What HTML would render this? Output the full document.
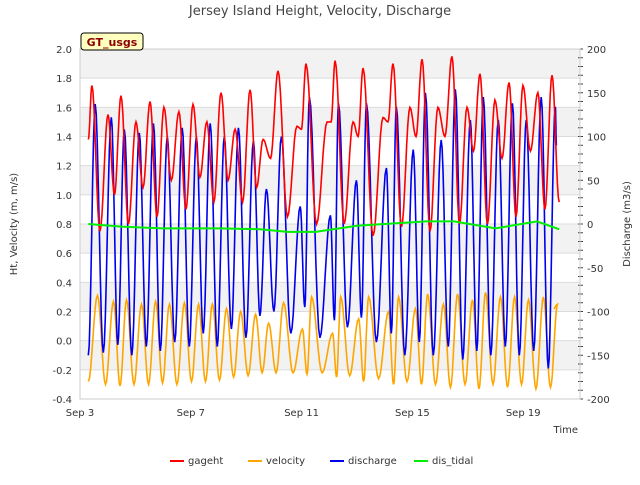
<!DOCTYPE html>
<html><head><meta charset="utf-8"><style>
body{margin:0;background:#fff;font-family:"Liberation Sans","DejaVu Sans",sans-serif}
svg text{font-family:"DejaVu Sans","Liberation Sans",sans-serif}
</style></head><body>
<svg id="c" width="640" height="480" xmlns="http://www.w3.org/2000/svg"></svg>
<script>
const gagePeakT=[0.43,1.01,1.48,2.02,2.53,3.03,3.57,4.08,4.58,5.09,5.6,6.14,6.61,7.15,7.83,8.16,8.92,9.21,9.86,10.22,10.94,11.3,11.91,12.35,12.92,13.43,13.97,14.44,14.98,15.49,15.99,16.53,17.04];
const gagePeaks=[1.75,1.55,1.68,1.5,1.64,1.6,1.57,1.62,1.5,1.7,1.45,1.72,1.38,1.85,1.47,1.9,1.5,1.92,1.5,1.87,1.53,1.9,1.6,1.93,1.6,1.95,1.6,1.83,1.65,1.77,1.75,1.7,1.82];
const gageTroughs=[1.38,0.75,1.0,0.8,1.05,0.85,1.1,0.9,1.12,0.95,1.1,0.95,1.05,1.25,0.85,1.45,0.8,1.5,0.8,1.4,0.72,1.5,0.78,1.4,0.75,1.4,0.8,1.3,0.8,1.25,0.85,1.3,0.9,0.95];
const dischPeaks=[137,122,108,104,115,100,110,100,115,100,110,95,40,100,20,145,10,138,50,138,64,134,85,150,96,154,119,145,119,138,119,145,134];
const dischTroughs=[-150,-147,-138,-150,-140,-145,-135,-140,-125,-140,-120,-130,-105,-100,-125,-95,-130,-110,-118,-107,-135,-125,-150,-135,-150,-140,-155,-145,-150,-140,-150,-145,-165,90];
const velPeaks=[0.31,0.27,0.28,0.25,0.27,0.25,0.26,0.25,0.25,0.22,0.2,0.18,0.12,0.26,0.08,0.3,0.05,0.3,0.15,0.3,0.2,0.3,0.22,0.32,0.25,0.32,0.28,0.33,0.3,0.3,0.28,0.3,0.25];
const velTroughs=[-0.28,-0.3,-0.31,-0.3,-0.3,-0.29,-0.3,-0.28,-0.28,-0.27,-0.25,-0.24,-0.22,-0.22,-0.22,-0.23,-0.22,-0.25,-0.24,-0.28,-0.26,-0.3,-0.28,-0.3,-0.3,-0.32,-0.3,-0.33,-0.3,-0.32,-0.3,-0.33,-0.32,0.22];
const tidalT=[0.3,1.5,3,5,6.5,7.5,8.5,10,11,12.5,13.5,15,16.5,17.3];
const tidalV=[0,-3,-5,-5,-6,-9,-9,-2,0,3,3,-5,3,-6];
const leftTicks=["-0.4","-0.2","0.0","0.2","0.4","0.6","0.8","1.0","1.2","1.4","1.6","1.8","2.0"];
const rightTicks=["-200","-150","-100","-50","0","50","100","150","200"];
const dateLabels=["Sep 3","Sep 7","Sep 11","Sep 15","Sep 19"];
const dateDays=[0,4,8,12,16];

const NS="http://www.w3.org/2000/svg",svg=document.getElementById('c');
const X0=80,X1=580,Y0=49,Y1=399;
const xs=t=>X0+t*27.7;
const yl=v=>Y1-(v+0.4)/2.4*(Y1-Y0);
const yr=v=>Y1-(v+200)/400*(Y1-Y0);
function el(tag,a,p){const e=document.createElementNS(NS,tag);for(const k in a)e.setAttribute(k,a[k]);(p||svg).appendChild(e);return e;}
function txt(s,a){const e=el('text',a);e.textContent=s;return e;}

const bh=yl(1.8)-yl(2.0);
for(let k=0;k<6;k++){
 const r=el('rect',{x:X0,y:yl(2.0-0.4*k),width:X1-X0,height:bh,fill:'#f2f2f2'});
 
}
leftTicks.forEach((s,i)=>{const v=parseFloat(s);
 const g=el('line',{x1:X0,x2:X1,y1:yl(v),y2:yl(v),stroke:'#dcdcdc','stroke-width':1});
 
 const t=txt(s,{x:72,y:yl(v)+4,'text-anchor':'end','font-size':10,fill:'#333'});
 });
rightTicks.forEach(s=>{const v=parseFloat(s);
 const t=txt(s,{x:587,y:yr(v)+4,'font-size':10,fill:'#333'});
 });
for(let v=-200;v<=200;v+=10){const m=el('line',{x1:X1-2,x2:X1+3,y1:yr(v),y2:yr(v),stroke:'#444','stroke-width':1});
 }
dateLabels.forEach((s,i)=>{const t=txt(s,{x:xs(dateDays[i]),y:416,'text-anchor':'middle','font-size':10,fill:'#333'});
 });

function cosPath(ts,vs,yf){
 let d='';for(let i=0;i<ts.length-1;i++){const a=ts[i],b=ts[i+1];
  for(let k=0;k<=8;k++){const f=k/8,t=a+(b-a)*f,v=vs[i]+(vs[i+1]-vs[i])*(1-Math.cos(Math.PI*f))/2;
   d+=(d?'L':'M')+xs(t).toFixed(1)+','+yf(v).toFixed(1);}}
 return d;}
function series(peaksT,peaks,troughs,shift,t0,tEnd){
 const T=[],V=[];T.push(t0+shift);V.push(troughs[0]);
 for(let i=0;i<peaks.length;i++){T.push(peaksT[i]+shift);V.push(peaks[i]);
  const nt=i<peaks.length-1?(peaksT[i]+peaksT[i+1])/2+shift:tEnd;V.push(troughs[i+1]);T.push(nt);}
 return [T,V];}
let [gt,gv]=series(gagePeakT,gagePeaks,gageTroughs,0,0.3,17.3);
let [vt,vv]=series(gagePeakT,velPeaks,velTroughs,0.2,0.0,17.1);
let [dt,dv]=series(gagePeakT,dischPeaks,dischTroughs,0.12,0.05,17.2);
dt[0]=0.3;vt[0]=0.3;
const lines=[['velocity-line',vt,vv,yl,'#ffa500'],['discharge-line',dt,dv,yr,'#0000ee'],['gageht-line',gt,gv,yl,'#ff0000']];
lines.forEach(([n,t,v,f,c])=>{const p=el('path',{d:cosPath(t,v,f),fill:'none',stroke:c,'stroke-width':1.6});
 });
let td='';tidalT.forEach((t,i)=>{td+=(i?'L':'M')+xs(t)+','+yr(tidalV[i]);});
const tp=el('path',{d:td,fill:'none',stroke:'#00ee00','stroke-width':2});


const fr=el('rect',{x:X0,y:Y0,width:X1-X0,height:Y1-Y0,fill:'none',stroke:'#ccc'});

const ti=txt('Jersey Island Height, Velocity, Discharge',{x:320,y:15,'text-anchor':'middle','font-size':13,fill:'#444'});

const bx=el('rect',{x:81,y:33,width:62,height:17,fill:'#ffffc0',stroke:'#000',rx:3});

const bt=txt('GT_usgs',{x:112,y:46,'text-anchor':'middle','font-size':11,'font-weight':'bold',fill:'#8b0000'});

const xt=txt('Time',{x:578,y:433,'text-anchor':'end','font-size':10,fill:'#333'});

const ly=txt('Ht, Velocity (m, m/s)',{x:17,y:224,'text-anchor':'middle','font-size':10,fill:'#333',transform:'rotate(-90 17 224)'});

const ry=txt('Discharge (m3/s)',{x:630,y:224,'text-anchor':'middle','font-size':10,fill:'#333',transform:'rotate(-90 630 224)'});

[['gageht','#ff0000',170],['velocity','#ffa500',248],['discharge','#0000ee',330],['dis_tidal','#00ee00',414]].forEach(([n,c,x])=>{
 const l=el('line',{x1:x,x2:x+14,y1:461,y2:461,stroke:c,'stroke-width':2});
 
 const t=txt(n,{x:x+18,y:464,'font-size':10,fill:'#333'});
 });
</script>
</body></html>
